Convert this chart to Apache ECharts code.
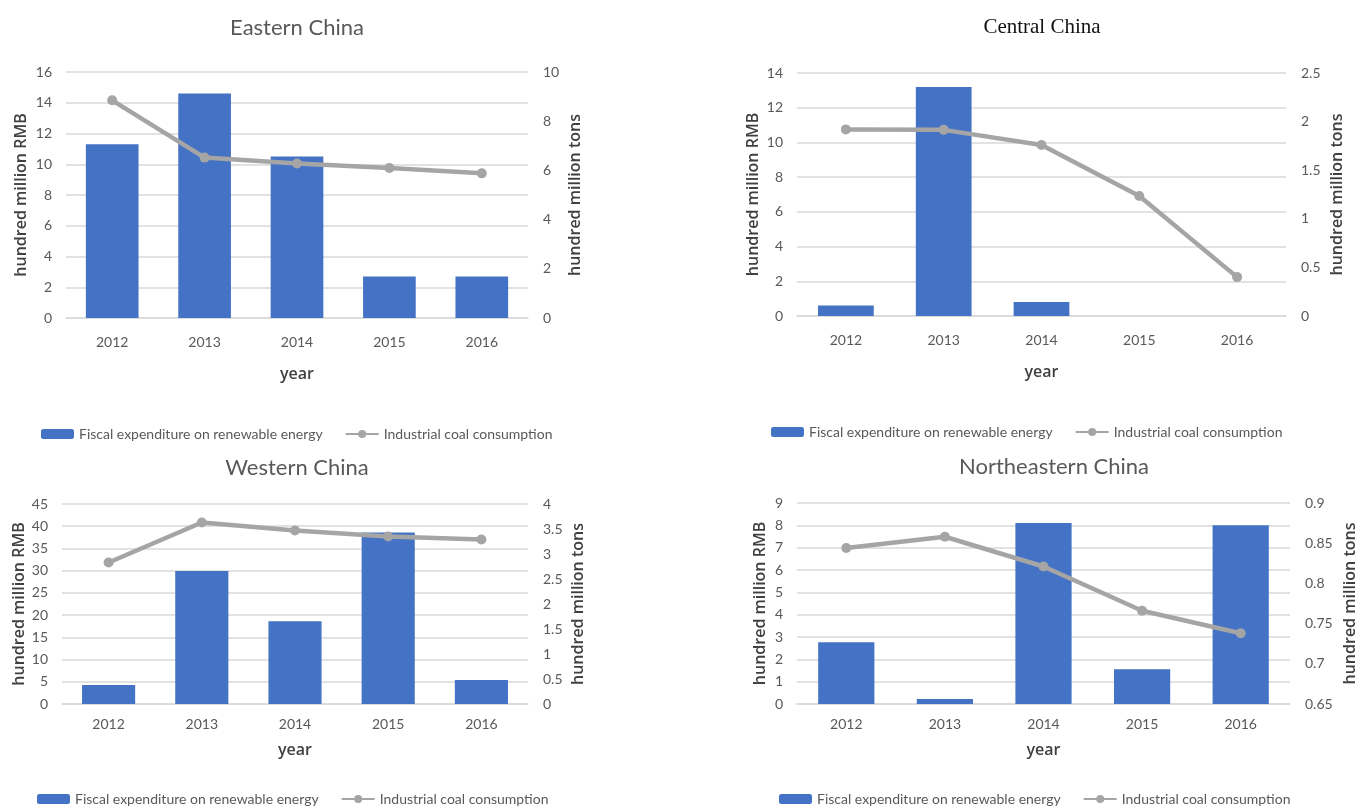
<!DOCTYPE html>
<html>
<head>
<meta charset="utf-8">
<script src="https://cdn.jsdelivr.net/npm/echarts@6/dist/echarts.min.js"></script>
<style>
html,body{margin:0;padding:0;background:#fff;}
#chart{width:1368px;height:808px;}
</style>
</head>
<body>
<div id="chart"></div>
<script>
const years = ['2012', '2013', '2014', '2015', '2016'];
const panelTitles = ['Eastern China', 'Central China', 'Western China', 'Northeastern China'];
const barName = 'Fiscal expenditure on renewable energy';
const lineName = 'Industrial coal consumption';
const leftAxisName = 'hundred million RMB';
const rightAxisName = 'hundred million tons';
const xAxisName = 'year';

const easternFiscal = [11.3, 14.6, 10.5, 2.7, 2.7];
const easternCoal = [8.85, 6.52, 6.28, 6.1, 5.88];
const centralFiscal = [0.6, 13.2, 0.8, 0, 0];
const centralCoal = [1.92, 1.915, 1.76, 1.235, 0.4];
const westernFiscal = [4.3, 29.9, 18.6, 38.6, 5.4];
const westernCoal = [2.83, 3.63, 3.47, 3.35, 3.29];
const northeasternFiscal = [2.76, 0.22, 8.1, 1.56, 8.0];
const northeasternCoal = [0.844, 0.858, 0.821, 0.766, 0.738];

// axis ranges: [min, max, interval]
const leftRanges = [[0, 16, 2], [0, 14, 2], [0, 45, 5], [0, 9, 1]];
const rightRanges = [[0, 10, 2], [0, 2.5, 0.5], [0, 4, 0.5], [0.65, 0.9, 0.05]];

const fiscalData = [easternFiscal, centralFiscal, westernFiscal, northeasternFiscal];
const coalData = [easternCoal, centralCoal, westernCoal, northeasternCoal];

// layout
const grids = [
  {left: 66, top: 72, width: 462, height: 246},
  {left: 797, top: 73, width: 489, height: 243},
  {left: 62, top: 504, width: 466, height: 200},
  {left: 797, top: 503, width: 493, height: 201}
];
const titlePos = [[297, 17], [1042, 17], [297, 457], [1054, 456]];
const leftGap = [37, 36, 35, 29];
const rightGap = [39, 43, 42, 52];
const xNameGap = [48, 48, 38, 38];
const xLabelMargin = [17, 17, 13, 13];
const legendPos = [[41, 427], [771, 425], [37, 792], [779, 792]];

const FONT = 'Lato';
const gridColor = '#d9d9d9';
const tickColor = '#595959';
const nameColor = '#404040';

const option = {
  backgroundColor: '#fff',
  animation: false,
  title: [], grid: [], xAxis: [], yAxis: [], series: [], legend: []
};

for (let i = 0; i < 4; i++) {
  option.title.push({
    text: panelTitles[i],
    left: titlePos[i][0] - 5,
    top: titlePos[i][1] - 5,
    textAlign: 'center',
    textStyle: {
      fontFamily: i === 1 ? 'Liberation Serif' : FONT,
      fontSize: i === 1 ? 21 : 22,
      fontWeight: 'normal',
      color: i === 1 ? '#111' : '#595959'
    }
  });
  option.grid.push(Object.assign({containLabel: false}, grids[i]));
  option.xAxis.push({
    type: 'category', gridIndex: i, data: years,
    axisLine: {lineStyle: {color: gridColor, width: 1.5}},
    axisTick: {show: false},
    axisLabel: {margin: xLabelMargin[i], color: tickColor, fontSize: 14, fontFamily: FONT},
    name: xAxisName, nameLocation: 'middle', nameGap: xNameGap[i],
    nameTextStyle: {color: nameColor, fontSize: 16, fontFamily: 'Open Sans', fontWeight: 600}
  });
  option.yAxis.push({
    type: 'value', gridIndex: i, position: 'left',
    min: leftRanges[i][0], max: leftRanges[i][1], interval: leftRanges[i][2],
    axisLine: {show: false}, axisTick: {show: false},
    splitLine: {lineStyle: {color: gridColor, width: 1.5}},
    axisLabel: {margin: 14, color: tickColor, fontSize: 14, fontFamily: FONT},
    name: leftAxisName, nameLocation: 'middle', nameRotate: 90, nameGap: leftGap[i],
    nameTextStyle: {color: nameColor, fontSize: 16, fontFamily: 'Open Sans', fontWeight: 600}
  });
  option.yAxis.push({
    type: 'value', gridIndex: i, position: 'right',
    min: rightRanges[i][0], max: rightRanges[i][1], interval: rightRanges[i][2],
    axisLine: {show: false}, axisTick: {show: false},
    splitLine: {show: false},
    axisLabel: {margin: 15, color: tickColor, fontSize: 14, fontFamily: FONT,
      formatter: v => String(Math.round(v * 1000) / 1000)},
    name: rightAxisName, nameLocation: 'middle', nameRotate: 90, nameGap: rightGap[i],
    nameTextStyle: {color: nameColor, fontSize: 16, fontFamily: 'Open Sans', fontWeight: 600}
  });
  option.series.push({
    name: barName, type: 'bar', xAxisIndex: i, yAxisIndex: 2 * i,
    data: fiscalData[i], barCategoryGap: '43%',
    itemStyle: {color: '#4472c4'}
  });
  option.series.push({
    name: lineName, type: 'line', xAxisIndex: i, yAxisIndex: 2 * i + 1,
    data: coalData[i], symbol: 'circle', symbolSize: 10,
    lineStyle: {color: '#a5a5a5', width: 4.5},
    itemStyle: {color: '#a5a5a5'}
  });
  option.legend.push({
    data: [barName, lineName],
    left: legendPos[i][0], top: legendPos[i][1], padding: 0,
    itemWidth: 33, itemHeight: 10, itemGap: 22,
    textStyle: {color: tickColor, fontSize: 14, fontFamily: FONT}
  });
}

const chart = echarts.init(document.getElementById('chart'), null, {renderer: 'canvas'});
chart.setOption(option);
</script>
</body>
</html>
